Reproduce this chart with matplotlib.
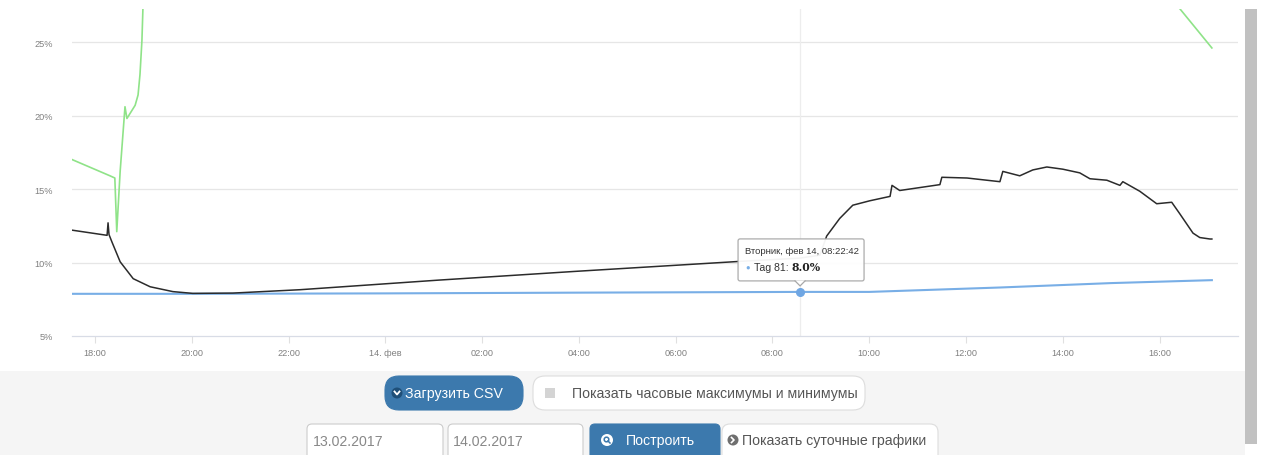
import matplotlib
matplotlib.use("Agg")
import matplotlib.pyplot as plt
from matplotlib.patches import FancyBboxPatch, Rectangle, Circle, Polygon

plt.rcParams['font.family'] = ['Liberation Sans', 'DejaVu Sans']

# ---------------- data (hours since 13.02 00:00, value in %) ----------------
black_hours = [17.53, 18.25, 18.27, 18.29, 18.35, 18.52, 18.79, 19.14, 19.61, 20.02,
               20.85, 22.24, 25.09, 27.94, 31.29, 32.57, 32.98, 33.12, 33.39, 33.66,
               34.01, 34.43, 34.47, 34.63, 35.46, 35.50, 36.02, 36.70, 36.76, 37.11,
               37.38, 37.67, 38.00, 38.35, 38.56, 38.91, 39.18, 39.24, 39.59, 39.94,
               40.25, 40.41, 40.69, 40.83, 41.04, 41.08]
black_vals = [12.2, 11.85, 12.7, 11.9, 11.4, 10.05, 8.9, 8.35, 8.02, 7.9,
              7.92, 8.15, 8.8, 9.4, 10.07, 10.3, 10.5, 11.8, 13.0, 13.9,
              14.2, 14.5, 15.25, 14.9, 15.3, 15.8, 15.75, 15.5, 16.2, 15.9,
              16.3, 16.5, 16.35, 16.1, 15.7, 15.6, 15.25, 15.5, 14.85, 14.0,
              14.1, 13.35, 12.0, 11.7, 11.6, 11.6]

blue_hours = [17.53, 20.0, 24.0, 28.0, 32.57, 34.0, 36.7, 39.0, 41.08]
blue_vals = [7.87, 7.87, 7.9, 7.95, 8.0, 8.0, 8.3, 8.6, 8.8]

green_hours_a = [17.53, 18.31, 18.41, 18.45, 18.52, 18.62, 18.66, 18.83, 18.89, 18.93, 18.97, 18.99]
green_vals_a = [17.0, 15.9, 15.75, 12.1, 16.2, 20.6, 19.8, 20.7, 21.4, 22.8, 25.1, 27.2]
green_hours_b = [40.41, 41.08]
green_vals_b = [27.3, 24.6]

tip_hour = 32.57
tip_val = 8.0
tip_title = "Вторник, фев 14, 08:22:42"
tip_series = "Tag 81: "
tip_value_text = "8.0%"

xtick_hours = [18, 20, 22, 24, 26, 28, 30, 32, 34, 36, 38, 40]
xtick_labels = ["18:00", "20:00", "22:00", "14. фев", "02:00", "04:00", "06:00",
                "08:00", "10:00", "12:00", "14:00", "16:00"]
ytick_vals = [5, 10, 15, 20, 25]
ytick_labels = ["5%", "10%", "15%", "20%", "25%"]

# ---------------- figure ----------------
W, H = 1263, 456
fig = plt.figure(figsize=(W / 100, H / 100), dpi=100)

# background / controls axes in pixel coordinates
bg = fig.add_axes([0, 0, 1, 1], zorder=0)
bg.set_xlim(0, W)
bg.set_ylim(H, 0)
bg.axis('off')
bg.add_patch(Rectangle((0, 0), W, 372, color='white', lw=0))
bg.add_patch(Rectangle((0, 372), 1245, H - 372, color='#f5f5f5', lw=0))
bg.add_patch(Rectangle((1257, 0), 6, H, color='white', lw=0))
bg.add_patch(Rectangle((1245, 10), 11.5, 435, color='#c1c1c1', lw=0))

# chart axes
L, R, T, B = 72, 1238, 10, 337
ax = fig.add_axes([L / W, 1 - B / H, (R - L) / W, (B - T) / H], zorder=2)
ax.set_facecolor('none')
ax.set_xlim(17.525, 41.62)
ax.set_ylim(5, 27.25)

for v in ytick_vals[1:]:
    ax.axhline(v, color='#e6e6e6', lw=0.9, zorder=1)
ax.axvline(tip_hour, color='#ededed', lw=0.9, zorder=1)

ax.plot(green_hours_a, green_vals_a, color='#8fe388', lw=1.2, zorder=3)
ax.plot(green_hours_b, green_vals_b, color='#8fe388', lw=1.2, zorder=3)
ax.plot(blue_hours, blue_vals, color='#78aee6', lw=1.5, zorder=4)
ax.plot(black_hours, black_vals, color='#2b2b2b', lw=1.1, zorder=5)
ax.plot([tip_hour], [tip_val], 'o', ms=5.5, color='#6fa6e3', zorder=6)

for s in ['top', 'right', 'left']:
    ax.spines[s].set_visible(False)
ax.spines['bottom'].set_color('#d8dce6')
ax.spines['bottom'].set_linewidth(0.9)
ax.set_xticks(xtick_hours)
ax.set_xticklabels(xtick_labels)
ax.set_yticks(ytick_vals)
ax.set_yticklabels(ytick_labels)
ax.tick_params(axis='x', length=5, width=0.8, color='#e0e0e0', labelsize=6.6,
               labelcolor='#808080', pad=3.5)
ax.tick_params(axis='y', length=0, labelsize=6.6, labelcolor='#808080', pad=14)

# tooltip anchored to the tooltip point
ui = fig.add_axes([0, 0, 1, 1], zorder=3)
ui.set_xlim(0, W)
ui.set_ylim(H, 0)
ui.axis('off')
px, py = ax.transData.transform((tip_hour, tip_val))
ux, uy = px, H - py
ui.add_patch(FancyBboxPatch((ux - 62, uy - 53), 126, 42,
                            boxstyle="round,pad=0,rounding_size=2",
                            fc='white', ec='#a8a8a8', lw=0.9, alpha=0.95, zorder=10))
ui.add_patch(Polygon([[ux - 5, uy - 11.5], [ux + 5, uy - 11.5], [ux, uy - 6]],
                     closed=True, fc='white', ec='none', zorder=11))
ui.plot([ux - 5, ux, ux + 5], [uy - 11, uy - 6, uy - 11], color='#a8a8a8', lw=0.9, zorder=11)
ui.text(ux - 55, uy - 41, tip_title, fontsize=6.8, color='#333333', va='center', ha='left', zorder=12)
ui.text(ux - 55, uy - 25, "●", fontsize=5.5, color='#78aee6', va='center', ha='left', zorder=12)
t1 = ui.text(ux - 46, uy - 25, tip_series, fontsize=7.6, color='#333333', va='center', ha='left', zorder=12)
fig.canvas.draw()
bb = t1.get_window_extent()
ui.text(ux - 46 + bb.width, uy - 25, tip_value_text, fontsize=7.8, color='#222222',
        fontweight='bold', va='center', ha='left', zorder=12, family='DejaVu Serif')

# ---------------- bottom controls ----------------
def rbox(x0, y0, x1, y1, fc, ec, r=6, lw=0.8, z=4):
    bg.add_patch(FancyBboxPatch((x0, y0), x1 - x0, y1 - y0,
                                boxstyle=f"round,pad=0,rounding_size={r}",
                                fc=fc, ec=ec, lw=lw, zorder=z))

blue_btn = '#3c79ad'
fs = 10.2
# Load CSV button
rbox(385, 377, 523, 411, blue_btn, blue_btn, r=14)
bg.add_patch(Circle((397, 394), 5.5, fc='#1f4f78', ec='none', zorder=5))
bg.plot([394.5, 397, 399.5], [392.5, 395.5, 392.5], color='white', lw=1.3, zorder=6)
bg.text(405, 394.5, "Загрузить CSV", color='white', fontsize=fs, va='center', ha='left', zorder=6)
# hourly min/max toggle
rbox(533, 377, 865, 411, 'white', '#dddddd', r=12)
bg.add_patch(Rectangle((545, 389), 10, 10, fc='#d4d4d4', ec='none', zorder=5))
bg.text(572, 394.5, "Показать часовые максимумы и минимумы", color='#555555', fontsize=fs,
        va='center', ha='left', zorder=6)
# date inputs
rbox(307, 425, 443, 470, 'white', '#cccccc', r=5)
bg.text(313, 442, "13.02.2017", color='#888888', fontsize=fs, va='center', ha='left', zorder=6)
rbox(448, 425, 583, 470, 'white', '#cccccc', r=5)
bg.text(453, 442, "14.02.2017", color='#888888', fontsize=fs, va='center', ha='left', zorder=6)
# build button
rbox(590, 425, 720, 470, blue_btn, blue_btn, r=5)
bg.add_patch(Circle((607, 441), 6, fc='white', ec='none', zorder=5))
bg.add_patch(Circle((606.5, 440.5), 2.3, fc='none', ec=blue_btn, lw=1.1, zorder=6))
bg.plot([608, 610], [442, 444], color=blue_btn, lw=1.1, zorder=6)
bg.text(626, 441, "Построить", color='white', fontsize=fs, va='center', ha='left', zorder=6)
# daily charts button
rbox(722, 425, 938, 470, 'white', '#dddddd', r=8)
bg.add_patch(Circle((733, 441), 5.5, fc='#6f6f6f', ec='none', zorder=5))
bg.plot([731.5, 734, 731.5], [438.5, 441, 443.5], color='white', lw=1.2, zorder=6)
bg.text(742, 441, "Показать суточные графики", color='#555555', fontsize=fs,
        va='center', ha='left', zorder=6)

fig.savefig("out.png", dpi=100)
